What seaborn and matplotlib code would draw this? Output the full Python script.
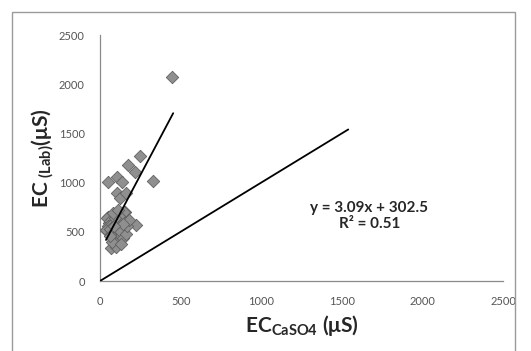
import numpy as np
import pandas as pd
import matplotlib
matplotlib.use("Agg")
import matplotlib.pyplot as plt
import seaborn as sns
from matplotlib.patches import Rectangle

# data
ec_caso4 = [448, 246, 173, 219, 329, 52, 108, 135, 104, 125, 162, 52, 56, 37, 225, 69, 156,
            45, 60, 52, 40, 75, 90, 70, 100, 85, 110, 95, 120, 130, 140, 150, 160, 155, 150,
            135, 120, 105, 115, 90, 80, 65, 125, 140, 160, 170, 180, 100, 75, 60, 110, 145,
            130, 85]
ec_lab = [2070, 1270, 1179, 1111, 1019, 1009, 1054, 1003, 891, 847, 897, 653, 593, 518, 566, 332, 704,
          640, 610, 560, 520, 580, 520, 480, 470, 440, 400, 380, 420, 460, 500, 540, 600, 650, 700,
          620, 560, 600, 660, 640, 690, 530, 510, 440, 480, 560, 620, 350, 400, 460, 720, 580,
          380, 560]
fit_x = [37, 454]
slope, intercept = 3.09, 302.5
ref_x = [0, 1540]
eq_text = "y = 3.09x + 302.5\nR² = 0.51"
ticks = [0, 500, 1000, 1500, 2000, 2500]

df = pd.DataFrame({"x": ec_caso4, "y": ec_lab})
fit = pd.DataFrame({"x": fit_x, "y": [slope * v + intercept for v in fit_x]})
ref = pd.DataFrame({"x": ref_x, "y": ref_x})

sns.set_style("white")
plt.rcParams["font.family"] = ["Lato", "DejaVu Sans"]
plt.rcParams["mathtext.fontset"] = "custom"
plt.rcParams["mathtext.rm"] = "Lato"
plt.rcParams["mathtext.bf"] = "Lato:bold"

fig = plt.figure(figsize=(5.31, 3.51), dpi=100)
fig.patches.append(Rectangle((12 / 531, -0.05), 503 / 531, 1 - 12 / 351 + 0.05,
                             transform=fig.transFigure, fill=False,
                             edgecolor="#9a9a9a", linewidth=1.0))
ax = fig.add_axes([100 / 531, 1 - 281 / 351, 403 / 531, 246 / 351])

sns.scatterplot(data=df, x="x", y="y", marker="D", s=40, color="#8f8f8f",
                edgecolor="#606060", linewidth=0.6, ax=ax, zorder=3)
sns.lineplot(data=fit, x="x", y="y", color="black", linewidth=1.3, ax=ax, zorder=4)
sns.lineplot(data=ref, x="x", y="y", color="black", linewidth=1.3, ax=ax, zorder=4)

ax.set_xlim(0, 2500)
ax.set_ylim(0, 2500)
ax.set_xticks(ticks)
ax.set_yticks(ticks)
ax.tick_params(axis="both", labelsize=8, colors="#555555", length=3, width=0.8,
               direction="out", pad=8)
for s in ["top", "right"]:
    ax.spines[s].set_visible(False)
for s in ["left", "bottom"]:
    ax.spines[s].set_color("#8a8a8a")
    ax.spines[s].set_linewidth(0.9)

ax.set_xlabel(r"EC$_{\mathbf{CaSO4}}$ (μS)", fontsize=15, fontweight="bold", labelpad=4)
ax.set_ylabel(r"EC$_{\mathbf{\ (Lab)}}$(μS)", fontsize=15, fontweight="bold", labelpad=2)

ax.text(1670, 660, eq_text, ha="center", va="center", fontsize=11,
        fontweight="bold", linespacing=1.2)

fig.savefig("out.png", dpi=100)
